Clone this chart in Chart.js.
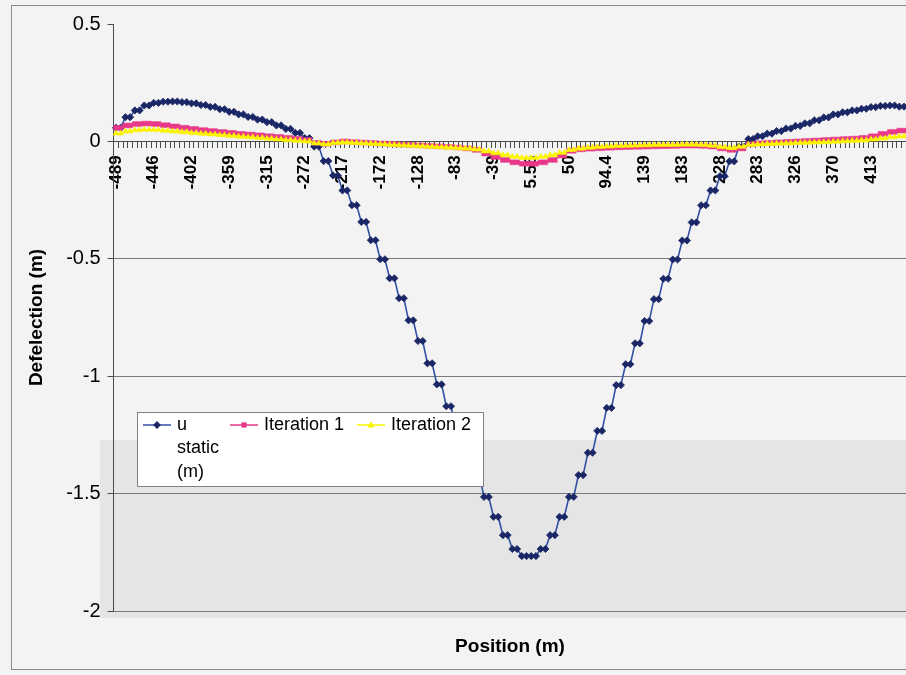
<!DOCTYPE html>
<html>
<head>
<meta charset="utf-8">
<script src="https://cdn.jsdelivr.net/npm/chart.js@4/dist/chart.umd.min.js"></script>
<style>
  html, body { margin: 0; padding: 0; width: 906px; height: 675px; overflow: hidden; background: #f3f3f3; }
  #frame { position: absolute; left: 11px; top: 5px; width: 1000px; height: 663px; border: 1px solid #8c8c8c; }
  #band { position: absolute; left: 100px; top: 440px; width: 820px; height: 178px; background: #e5e5e5; }
  #c { position: absolute; left: 0; top: 0; }
</style>
</head>
<body>
<div id="frame"></div>
<div id="band"></div>
<canvas id="c" width="950" height="675"></canvas>
<script>
// Category positions (m) – every node listed twice (element ends)
const positions = [
  "-489","-489","-478","-478","-467","-467","-457","-457",
  "-446","-446","-435","-435","-424","-424","-413","-413",
  "-402","-402","-391","-391","-380","-380","-370","-370",
  "-359","-359","-348","-348","-337","-337","-326","-326",
  "-315","-315","-304","-304","-293","-293","-283","-283",
  "-272","-272","-257","-257","-243","-243","-228","-228",
  "-217","-217","-206","-206","-195","-195","-183","-183",
  "-172","-172","-161","-161","-150","-150","-139","-139",
  "-128","-128","-117","-117","-105","-105","-94.4","-94.4",
  "-83","-83","-72","-72","-61","-61","-50","-50",
  "-39","-39","-27.8","-27.8","-16.7","-16.7","-5.56","-5.56",
  "5.56","5.56","16.7","16.7","27.8","27.8","38.9","38.9",
  "50","50","61.1","61.1","72.2","72.2","83.3","83.3",
  "94.4","94.4","106","106","117","117","128","128",
  "139","139","150","150","161","161","172","172",
  "183","183","194","194","206","206","217","217",
  "228","228","243","243","257","257","272","272",
  "283","283","294","294","304","304","315","315",
  "326","326","337","337","348","348","359","359",
  "370","370","380","380","391","391","402","402",
  "413","413","424","424","435","435","446","446"
];

const uStatic = [
  0.058,0.058,0.103,0.103,0.132,0.132,0.153,0.153,
  0.164,0.164,0.169,0.169,0.170,0.170,0.167,0.167,
  0.162,0.162,0.155,0.155,0.147,0.147,0.137,0.137,
  0.126,0.126,0.115,0.115,0.104,0.104,0.093,0.093,
  0.082,0.082,0.068,0.068,0.053,0.053,0.036,0.036,
  0.014,0.014,-0.022,-0.022,-0.084,-0.084,-0.145,-0.145,
  -0.209,-0.209,-0.272,-0.272,-0.343,-0.343,-0.421,-0.421,
  -0.502,-0.502,-0.583,-0.583,-0.668,-0.668,-0.762,-0.762,
  -0.850,-0.850,-0.945,-0.945,-1.035,-1.035,-1.128,-1.128,
  -1.230,-1.230,-1.325,-1.325,-1.421,-1.421,-1.514,-1.514,
  -1.599,-1.599,-1.677,-1.677,-1.736,-1.736,-1.766,-1.766,
  -1.766,-1.766,-1.736,-1.736,-1.677,-1.677,-1.599,-1.599,
  -1.514,-1.514,-1.421,-1.421,-1.326,-1.326,-1.233,-1.233,
  -1.135,-1.135,-1.038,-1.038,-0.949,-0.949,-0.860,-0.860,
  -0.765,-0.765,-0.672,-0.672,-0.585,-0.585,-0.503,-0.503,
  -0.422,-0.422,-0.345,-0.345,-0.272,-0.272,-0.209,-0.209,
  -0.148,-0.148,-0.085,-0.085,-0.022,-0.022,0.010,0.010,
  0.022,0.022,0.033,0.033,0.044,0.044,0.055,0.055,
  0.066,0.066,0.077,0.077,0.090,0.090,0.102,0.102,
  0.115,0.115,0.124,0.124,0.132,0.132,0.139,0.139,
  0.146,0.146,0.151,0.151,0.153,0.153,0.148,0.148
];

const iteration1 = [
  0.058,0.058,0.068,0.068,0.074,0.074,0.076,0.076,
  0.074,0.074,0.069,0.069,0.064,0.064,0.058,0.058,
  0.053,0.053,0.048,0.048,0.044,0.044,0.040,0.040,
  0.036,0.036,0.032,0.032,0.029,0.029,0.026,0.026,
  0.022,0.022,0.019,0.019,0.015,0.015,0.011,0.011,
  0.006,0.006,-0.006,-0.006,-0.010,-0.010,-0.004,-0.004,
  0.000,0.000,-0.003,-0.003,-0.005,-0.005,-0.007,-0.007,
  -0.009,-0.009,-0.011,-0.011,-0.013,-0.013,-0.015,-0.015,
  -0.017,-0.017,-0.019,-0.019,-0.021,-0.021,-0.023,-0.023,
  -0.026,-0.026,-0.030,-0.030,-0.036,-0.036,-0.052,-0.052,
  -0.066,-0.066,-0.079,-0.079,-0.089,-0.089,-0.095,-0.095,
  -0.095,-0.095,-0.089,-0.089,-0.079,-0.079,-0.060,-0.060,
  -0.040,-0.040,-0.034,-0.034,-0.031,-0.031,-0.029,-0.029,
  -0.027,-0.027,-0.025,-0.025,-0.024,-0.024,-0.023,-0.023,
  -0.022,-0.022,-0.021,-0.021,-0.020,-0.020,-0.019,-0.019,
  -0.018,-0.018,-0.018,-0.018,-0.019,-0.019,-0.022,-0.022,
  -0.030,-0.030,-0.036,-0.036,-0.030,-0.030,-0.012,-0.012,
  -0.008,-0.008,-0.006,-0.006,-0.004,-0.004,-0.002,-0.002,
  0.000,0.000,0.002,0.002,0.004,0.004,0.006,0.006,
  0.008,0.008,0.010,0.010,0.012,0.012,0.015,0.015,
  0.022,0.022,0.032,0.032,0.040,0.040,0.046,0.046
];

const iteration2 = [
  0.034,0.034,0.043,0.043,0.048,0.048,0.050,0.050,
  0.049,0.049,0.046,0.046,0.043,0.043,0.040,0.040,
  0.036,0.036,0.033,0.033,0.030,0.030,0.027,0.027,
  0.024,0.024,0.021,0.021,0.018,0.018,0.015,0.015,
  0.012,0.012,0.009,0.009,0.006,0.006,0.003,0.003,
  0.000,0.000,-0.008,-0.008,-0.012,-0.012,-0.006,-0.006,
  -0.004,-0.004,-0.006,-0.006,-0.008,-0.008,-0.010,-0.010,
  -0.012,-0.012,-0.014,-0.014,-0.016,-0.016,-0.018,-0.018,
  -0.020,-0.020,-0.022,-0.022,-0.024,-0.024,-0.026,-0.026,
  -0.028,-0.028,-0.030,-0.030,-0.034,-0.034,-0.042,-0.042,
  -0.050,-0.050,-0.058,-0.058,-0.065,-0.065,-0.070,-0.070,
  -0.070,-0.070,-0.065,-0.065,-0.058,-0.058,-0.048,-0.048,
  -0.036,-0.036,-0.030,-0.030,-0.026,-0.026,-0.023,-0.023,
  -0.021,-0.021,-0.019,-0.019,-0.018,-0.018,-0.017,-0.017,
  -0.016,-0.016,-0.015,-0.015,-0.014,-0.014,-0.014,-0.014,
  -0.013,-0.013,-0.013,-0.013,-0.015,-0.015,-0.018,-0.018,
  -0.024,-0.024,-0.028,-0.028,-0.022,-0.022,-0.014,-0.014,
  -0.012,-0.012,-0.010,-0.010,-0.009,-0.009,-0.008,-0.008,
  -0.006,-0.006,-0.005,-0.005,-0.004,-0.004,-0.003,-0.003,
  -0.001,-0.001,0.001,0.001,0.003,0.003,0.005,0.005,
  0.009,0.009,0.013,0.013,0.018,0.018,0.022,0.022
];

const seriesNames = ["u static (m)", "Iteration 1", "Iteration 2"];
const yTicks = [0.5, 0, -0.5, -1, -1.5, -2];
const yTickLabels = ["0.5", "0", "-0.5", "-1", "-1.5", "-2"];
const labelEvery = 8;

const FONT = "'Liberation Sans', Arial, sans-serif";
const BLUE_LINE = '#3150a4', BLUE_PT = '#1a2666';
const PINK = '#e8388a', YELLOW = '#fbf400';

function drawMarker(ctx, style, x, y, r, fill) {
  ctx.fillStyle = fill;
  ctx.beginPath();
  if (style === 'rectRot') {
    ctx.moveTo(x, y - r); ctx.lineTo(x + r, y); ctx.lineTo(x, y + r); ctx.lineTo(x - r, y);
  } else if (style === 'rect') {
    const s = r * Math.SQRT1_2;
    ctx.rect(x - s, y - s, 2 * s, 2 * s);
  } else {
    ctx.moveTo(x, y - r); ctx.lineTo(x + r, y + r * 0.7); ctx.lineTo(x - r, y + r * 0.7);
  }
  ctx.closePath();
  ctx.fill();
}

const boxLegend = {
  id: 'boxLegend',
  afterDatasetsDraw(chart) {
    const ctx = chart.ctx;
    ctx.save();
    ctx.fillStyle = '#ffffff';
    ctx.strokeStyle = '#808080';
    ctx.lineWidth = 1;
    ctx.fillRect(137.5, 412.5, 346, 74);
    ctx.strokeRect(137.5, 412.5, 346, 74);
    const entries = [
      { x: 143, lines: ['u', 'static', '(m)'] },
      { x: 230, lines: ['Iteration 1'] },
      { x: 357, lines: ['Iteration 2'] }
    ];
    const ds = chart.data.datasets;
    entries.forEach((e, i) => {
      const d = ds[i];
      const y = 425;
      ctx.strokeStyle = d.borderColor;
      ctx.lineWidth = 1.5;
      ctx.beginPath(); ctx.moveTo(e.x, y); ctx.lineTo(e.x + 28, y); ctx.stroke();
      drawMarker(ctx, d.pointStyle, e.x + 14, y, d.pointRadius + 0.3, d.pointBackgroundColor);
      ctx.fillStyle = '#000';
      ctx.font = '18px ' + FONT;
      ctx.textBaseline = 'middle';
      ctx.textAlign = 'left';
      e.lines.forEach((t, j) => ctx.fillText(t, e.x + 34, y + j * 23.5));
    });
    ctx.restore();
  }
};

new Chart(document.getElementById('c'), {
  type: 'line',
  data: {
    labels: positions,
    datasets: [
      { label: seriesNames[0], data: uStatic, borderColor: BLUE_LINE, borderWidth: 1.6,
        pointStyle: 'rectRot', pointRadius: 3.6, pointBackgroundColor: BLUE_PT, pointBorderColor: BLUE_PT,
        pointBorderWidth: 0.8, tension: 0, order: 3 },
      { label: seriesNames[1], data: iteration1, borderColor: PINK, borderWidth: 1.5,
        pointStyle: 'rect', pointRadius: 3.4, pointBackgroundColor: PINK, pointBorderColor: PINK,
        pointBorderWidth: 0.5, tension: 0, order: 2 },
      { label: seriesNames[2], data: iteration2, borderColor: YELLOW, borderWidth: 1.5,
        pointStyle: 'triangle', pointRadius: 3.4, pointBackgroundColor: YELLOW, pointBorderColor: YELLOW,
        pointBorderWidth: 0.5, tension: 0, order: 1 }
    ]
  },
  options: {
    responsive: false,
    animation: false,
    devicePixelRatio: 1,
    layout: { padding: { left: 0, right: 43.6, top: 24, bottom: 6.6 } },
    plugins: {
      legend: { display: false },
      tooltip: { enabled: false },
      title: {
        display: true, text: 'Position (m)', position: 'bottom', fullSize: false,
        color: '#000', font: { family: FONT, size: 19, weight: 'bold', lineHeight: 1.2 },
        padding: { top: 24.6, bottom: 10 }
      }
    },
    scales: {
      x: {
        type: 'category',
        position: { y: 0 },
        offset: true,
        grid: { offset: true, drawOnChartArea: false, drawTicks: true, tickLength: 6, tickColor: '#4a4a4a', lineWidth: 1 },
        border: { color: '#4a4a4a', width: 1 },
        ticks: {
          autoSkip: false, minRotation: 90, maxRotation: 90, padding: 8,
          color: '#000', font: { family: FONT, size: 17, weight: 'bold' },
          callback: function (value, index) { return index % labelEvery === 0 ? this.getLabelForValue(value) : ''; }
        }
      },
      y: {
        min: yTicks[yTicks.length - 1],
        max: yTicks[0],
        afterBuildTicks: (s) => { s.ticks = yTicks.map(v => ({ value: v })); },
        afterFit: (s) => { s.width = 113.6; },
        ticks: {
          padding: 7, color: '#000', font: { family: FONT, size: 20 },
          callback: (v) => { const i = yTicks.indexOf(v); return i >= 0 ? yTickLabels[i] : String(v); }
        },
        grid: {
          color: (c) => (c.tick && c.tick.value === 0.5) ? 'rgba(0,0,0,0)' : '#7a7a7a',
          tickLength: 6, tickColor: '#4a4a4a'
        },
        border: { color: '#4a4a4a', width: 1 },
        title: {
          display: true, text: 'Defelection (m)', color: '#000',
          font: { family: FONT, size: 19, weight: 'bold', lineHeight: 1.2 },
          padding: { top: 25.6, bottom: 0 }
        }
      }
    }
  },
  plugins: [boxLegend]
});
</script>
</body>
</html>
